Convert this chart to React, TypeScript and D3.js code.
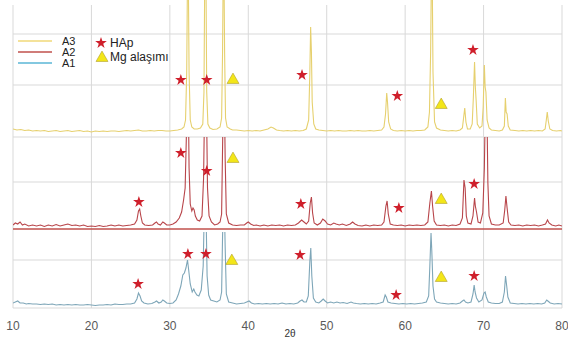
import React from "react";
import * as d3 from "d3";

// 2θ tick labels
const ticks = [10, 20, 30, 40, 50, 60, 70, 80];
// horizontal grid positions (intensity, arb. units)
const gridLevels = [0, 48, 126, 171, 223, 274];
const axisA2 = 79;

// [2θ, intensity above own baseline]
const a3: [number, number][] = [
  [10, 3], [10.5, 2], [11, 2.5], [11.5, 1.5], [12, 2], [12.5, 1], [13, 1.5], [13.5, 1], [14, 1.5], [14.5, 0.5], [15, 1], [15.5, 1.5], [16, 0.5], [16.5, 1], [17, 1.5], [17.5, 0.5], [18, 1], [18.5, 1.5], [19, 0.5], [19.5, 1], [20, 0], [20.5, 1], [21, 0.5], [21.5, 1], [22, 0.5], [22.5, 1], [23, 1], [23.5, 0.5], [24, 1], [24.5, 1.5], [25, 1], [25.5, 1.5], [26, 2], [26.5, 1], [27, 1], [27.5, 1.5], [28, 1], [28.5, 1.5], [29, 1.5], [29.5, 1], [30, 1], [30.5, 1.5], [31, 2], [31.5, 3], [31.8, 5], [32, 12], [32.15, 60], [32.25, 160], [32.35, 160], [32.45, 60], [32.6, 12], [32.8, 5], [33.1, 3], [33.5, 3], [33.9, 4], [34.2, 8], [34.35, 40], [34.45, 160], [34.6, 160], [34.7, 40], [34.85, 8], [35.1, 4], [35.5, 2.5], [36, 3], [36.4, 5], [36.6, 14], [36.72, 80], [36.8, 160], [36.9, 160], [36.98, 80], [37.1, 14], [37.3, 5], [37.7, 3], [38, 2], [38.5, 2], [39, 1.5], [39.5, 1], [40, 1.5], [40.5, 1], [41, 1.5], [41.5, 1], [42, 2], [42.5, 3], [42.9, 5], [43.2, 4], [43.6, 2], [44, 1.5], [44.5, 1], [45, 1.5], [45.5, 1], [46, 1.5], [46.5, 1], [47, 1.5], [47.4, 3], [47.7, 12], [47.85, 60], [47.95, 105], [48.05, 80], [48.15, 30], [48.35, 8], [48.6, 3], [49, 2], [49.5, 1.5], [50, 1], [50.5, 1.5], [51, 1], [51.5, 1.5], [52, 1], [52.5, 1], [53, 1.5], [53.5, 1], [54, 1.5], [54.5, 1], [55, 1], [55.5, 1.5], [56, 1], [56.5, 1.5], [57, 2], [57.3, 5], [57.5, 18], [57.65, 39], [57.75, 30], [57.9, 10], [58.15, 3], [58.5, 1.5], [59, 1], [59.5, 1.5], [60, 1], [60.5, 1.5], [61, 1], [61.5, 1.5], [62, 1.5], [62.5, 2], [62.9, 5], [63.1, 20], [63.25, 80], [63.35, 160], [63.45, 160], [63.55, 60], [63.75, 10], [64, 4], [64.5, 2], [65, 1.5], [65.5, 1], [66, 1.5], [66.5, 1], [67, 2], [67.3, 4], [67.45, 14], [67.6, 24], [67.75, 10], [67.95, 3], [68.3, 3], [68.55, 8], [68.7, 35], [68.85, 70], [68.95, 45], [69.05, 32], [69.2, 8], [69.5, 4], [69.8, 6], [69.95, 25], [70.1, 67], [70.2, 45], [70.3, 40], [70.45, 12], [70.7, 4], [71, 2], [71.5, 1.5], [72, 1], [72.4, 2], [72.65, 6], [72.78, 34], [72.88, 20], [73, 18], [73.15, 6], [73.4, 2], [74, 1.5], [74.5, 1], [75, 1.5], [75.5, 1], [76, 1.5], [76.5, 1], [77, 1.5], [77.5, 1], [77.85, 3], [78, 12], [78.12, 20], [78.25, 11], [78.45, 3], [78.8, 1.5], [79.3, 1], [79.8, 1.5], [80, 1],
];

const a2: [number, number][] = [
  [10, 3], [10.3, 5], [10.6, 4], [10.9, 6], [11.2, 3], [11.5, 4], [12, 2], [12.5, 3], [13, 2], [13.5, 3], [14, 1.5], [14.5, 3], [15, 2], [15.5, 3.5], [16, 2], [16.5, 3], [17, 4], [17.5, 2.5], [18, 3], [18.5, 2], [19, 3], [19.5, 1.5], [20, 2], [20.5, 1.5], [21, 2.5], [21.5, 1.5], [22, 2], [22.5, 3], [23, 2], [23.5, 3], [24, 2], [24.5, 2.5], [25, 3], [25.5, 4], [25.8, 8], [26, 17], [26.15, 19], [26.3, 12], [26.5, 5], [26.8, 3], [27.3, 2.5], [27.8, 3], [28.1, 5], [28.3, 6], [28.5, 4], [28.8, 3], [29.1, 6], [29.3, 5], [29.6, 3], [30, 3], [30.4, 4], [30.8, 6], [31.2, 10], [31.5, 16], [31.75, 28], [31.95, 40], [32.1, 90], [32.2, 135], [32.35, 135], [32.45, 60], [32.6, 24], [32.8, 17], [32.95, 20], [33.1, 18], [33.25, 12], [33.5, 8], [33.8, 7], [34.1, 12], [34.3, 50], [34.45, 135], [34.65, 135], [34.8, 40], [35, 12], [35.3, 6], [35.7, 3], [36.1, 4], [36.4, 6], [36.6, 14], [36.72, 80], [36.82, 135], [36.95, 135], [37.05, 70], [37.2, 14], [37.5, 5], [38, 3], [38.5, 2.5], [39, 3], [39.5, 3], [39.8, 5], [40, 6], [40.3, 4], [40.7, 2.5], [41, 3], [41.5, 2], [42, 3], [42.5, 2], [43, 3], [43.5, 2.5], [44, 3], [44.5, 2], [45, 3], [45.5, 2.5], [46, 3], [46.4, 5], [46.8, 8], [47.1, 6], [47.4, 4], [47.7, 7], [47.9, 25], [48.05, 31], [48.2, 15], [48.4, 5], [48.8, 3], [49.2, 5], [49.5, 9], [49.8, 7], [50.1, 4], [50.5, 3], [50.9, 5], [51.2, 4], [51.6, 3], [52, 4], [52.5, 2.5], [53, 4], [53.3, 6], [53.6, 4], [54, 2.5], [54.5, 2], [55, 3], [55.5, 2], [56, 3], [56.5, 2.5], [57, 3], [57.3, 6], [57.55, 22], [57.7, 27], [57.85, 14], [58.1, 4], [58.5, 3], [59, 2.5], [59.5, 3], [60, 2], [60.5, 3], [61, 2.5], [61.5, 3], [62, 2.5], [62.5, 3], [62.9, 6], [63.15, 25], [63.35, 37], [63.5, 22], [63.7, 7], [64, 3], [64.5, 2.5], [65, 3], [65.5, 2], [66, 3], [66.5, 2.5], [67, 4], [67.3, 10], [67.5, 48], [67.65, 40], [67.8, 12], [68, 5], [68.4, 4], [68.65, 12], [68.85, 30], [68.95, 22], [69.1, 16], [69.3, 6], [69.6, 5], [69.9, 15], [70.1, 60], [70.25, 135], [70.4, 135], [70.55, 45], [70.7, 12], [71, 4], [71.5, 3], [72, 3], [72.5, 5], [72.7, 18], [72.85, 32], [73, 20], [73.2, 6], [73.5, 3], [74, 2.5], [74.5, 3], [75, 2], [75.5, 3], [76, 2.5], [76.5, 3], [77, 2], [77.5, 3], [77.9, 4], [78.15, 8], [78.35, 5], [78.7, 3], [79.2, 2], [79.6, 3], [80, 2],
];

const a1: [number, number][] = [
  [10, 3], [10.3, 4], [10.6, 5], [10.9, 3], [11.3, 3], [11.7, 2], [12, 2.5], [12.5, 2], [13, 2], [13.5, 1.5], [14, 2], [14.5, 1.5], [15, 2], [15.5, 1], [16, 1.5], [16.5, 1], [17, 1.5], [17.5, 1], [18, 1.5], [18.5, 1], [19, 1], [19.5, 1.5], [20, 1], [20.5, 0.5], [21, 1], [21.5, 1], [22, 1.5], [22.5, 1], [23, 2], [23.5, 1.5], [24, 1.5], [24.5, 2], [25, 2], [25.5, 3], [25.8, 7], [26, 13], [26.2, 10], [26.4, 5], [26.7, 3], [27.2, 2], [27.7, 2.5], [28.1, 4], [28.3, 5], [28.6, 3], [28.9, 4], [29.1, 6], [29.3, 5], [29.6, 3], [30, 2.5], [30.4, 3], [30.8, 6], [31.1, 12], [31.4, 20], [31.65, 31], [31.85, 33], [32.05, 38], [32.25, 46], [32.4, 36], [32.6, 22], [32.85, 14], [33.05, 17], [33.2, 14], [33.45, 11], [33.7, 10], [34, 16], [34.25, 40], [34.4, 100], [34.6, 100], [34.75, 30], [34.95, 11], [35.2, 6], [35.6, 5], [36, 4], [36.4, 6], [36.6, 14], [36.72, 70], [36.82, 100], [36.95, 100], [37.05, 60], [37.2, 12], [37.5, 4], [38, 3], [38.5, 2], [39, 2.5], [39.5, 3], [39.8, 4], [40.1, 5], [40.4, 3], [40.8, 2], [41.3, 2.5], [41.8, 2], [42.3, 2.5], [42.8, 2], [43.3, 2.5], [43.8, 2], [44.3, 3], [44.8, 2], [45.3, 2.5], [45.8, 2], [46.3, 3], [46.6, 5], [46.85, 6], [47.1, 4], [47.4, 4], [47.65, 10], [47.85, 45], [47.97, 58], [48.1, 30], [48.3, 8], [48.6, 4], [49, 3], [49.3, 5], [49.55, 7], [49.8, 5], [50.1, 3], [50.5, 4], [50.9, 3], [51.3, 4], [51.7, 3], [52.1, 3.5], [52.6, 2.5], [53.1, 4], [53.4, 3], [53.8, 2.5], [54.3, 2], [54.8, 2.5], [55.3, 2], [55.8, 2.5], [56.3, 2], [56.8, 3], [57.2, 4], [57.45, 11], [57.6, 9], [57.8, 4], [58.2, 3], [58.7, 2.5], [59.2, 2], [59.7, 2.5], [60.2, 2], [60.7, 2.5], [61.2, 2], [61.7, 2.5], [62.2, 3], [62.7, 4], [63, 10], [63.15, 40], [63.3, 73], [63.4, 55], [63.55, 20], [63.75, 7], [64, 4], [64.5, 3], [65, 2.5], [65.5, 2], [66, 2.5], [66.5, 2], [67, 3], [67.3, 5], [67.5, 6], [67.7, 4], [68, 3], [68.4, 4], [68.65, 12], [68.8, 21], [68.92, 14], [69.1, 8], [69.4, 4], [69.8, 6], [70.05, 13], [70.2, 14], [70.35, 9], [70.6, 4], [71, 3], [71.5, 2.5], [72, 2.5], [72.4, 4], [72.65, 14], [72.8, 30], [72.95, 20], [73.1, 9], [73.4, 3], [73.9, 2.5], [74.4, 2], [74.9, 2.5], [75.4, 2], [75.9, 2.5], [76.4, 2], [76.9, 2.5], [77.4, 2], [77.8, 3], [78.05, 6], [78.2, 5], [78.5, 3], [79, 2], [79.5, 2.5], [80, 2],
];

// phase markers [2θ, intensity]
const hapStars: [number, number][] = [
  [31.4, 228], [34.7, 228], [46.85, 233], [59.0, 212], [68.65, 258],
  [26.05, 106], [31.4, 155], [34.7, 137], [46.7, 104], [59.2, 100], [68.8, 124],
  [25.95, 24], [32.3, 54], [34.6, 54], [46.6, 53], [58.85, 13], [68.8, 32],
];
const mgTriangles: [number, number][] = [
  [38.05, 228], [64.6, 203],
  [38.05, 149], [64.6, 108],
  [37.9, 47], [64.6, 30],
];

const series = [
  { name: "A3", data: a3, offset: 176, clipTop: 310, color: "#e6d06e", legend: "#f0d878" },
  { name: "A2", data: a2, offset: 80, clipTop: 171, color: "#b8454a", legend: "#c0504d" },
  { name: "A1", data: a1, offset: 2, clipTop: 76, color: "#7ea6b8", legend: "#5ab6d6" },
];

const W = 568;
const H = 340;

export default function App() {
  const x = d3.scaleLinear().domain([10, 80]).range([13, 562]);
  const y = d3.scaleLinear().domain([0, 303]).range([308, 5]);

  const star = d3.symbol().type(d3.symbolStar).size(42)();
  const tri = d3.symbol().type(d3.symbolTriangle).size(62)();

  return (
    <svg
      width={W}
      height={H}
      style={{ position: "absolute", left: 0, top: 0, background: "#fff" }}
      fontFamily="'Liberation Sans', Arial, sans-serif"
    >
      <defs>
        {series.map((s) => (
          <clipPath id={"clip-" + s.name} key={s.name}>
            <rect x={x(10)} y={y(s.clipTop)} width={x(80) - x(10)} height={y(0) - y(s.clipTop) + 4} />
          </clipPath>
        ))}
      </defs>

      {/* grid */}
      {ticks.map((t) => (
        <line key={"v" + t} x1={x(t)} x2={x(t)} y1={y(303)} y2={y(0)} stroke="#d9d9d9" strokeWidth={1} />
      ))}
      {gridLevels.map((g) => (
        <line key={"h" + g} x1={x(10)} x2={x(80)} y1={y(g)} y2={y(g)} stroke="#d9d9d9" strokeWidth={1} />
      ))}
      <line x1={x(10)} x2={x(80)} y1={y(axisA2)} y2={y(axisA2)} stroke="#c0504d" strokeWidth={1.5} />

      {/* traces */}
      {series.map((s) => {
        const line = d3
          .line<[number, number]>()
          .x((d) => x(d[0]))
          .y((d) => y(d[1] + s.offset));
        return (
          <path
            key={s.name}
            d={line(s.data) || ""}
            fill="none"
            stroke={s.color}
            strokeWidth={1.1}
            clipPath={`url(#clip-${s.name})`}
          />
        );
      })}

      {/* markers */}
      {hapStars.map((d, i) => (
        <path key={"s" + i} d={star || ""} transform={`translate(${x(d[0])},${y(d[1])})`} fill="#cf1f2b" />
      ))}
      {mgTriangles.map((d, i) => (
        <path
          key={"t" + i}
          d={tri || ""}
          transform={`translate(${x(d[0])},${y(d[1])})`}
          fill="#f3e619"
          stroke="#b0a030"
          strokeWidth={0.6}
        />
      ))}

      {/* x tick labels */}
      {ticks.map((t) => (
        <text key={"l" + t} x={x(t)} y={330} textAnchor="middle" fontSize={12} fill="#595959">
          {t}
        </text>
      ))}
      <text x={290} y={337} textAnchor="middle" fontSize={10} fill="#333">
        2θ
      </text>

      {/* legend */}
      {series.map((s, i) => (
        <g key={"lg" + s.name} transform={`translate(0,${41 + i * 11})`}>
          <line x1={18} x2={52} y1={0} y2={0} stroke={s.legend} strokeWidth={1.3} />
          <text x={62} y={3.5} fontSize={11} fill="#222">
            {s.name}
          </text>
        </g>
      ))}
      <path d={star || ""} transform="translate(101,43)" fill="#cf1f2b" />
      <text x={110} y={47} fontSize={12} fill="#222">
        HAp
      </text>
      <path d={tri || ""} transform="translate(102,58)" fill="#f3e619" stroke="#b0a030" strokeWidth={0.6} />
      <text x={110} y={61} fontSize={12} fill="#222">
        Mg alaşımı
      </text>
    </svg>
  );
}
